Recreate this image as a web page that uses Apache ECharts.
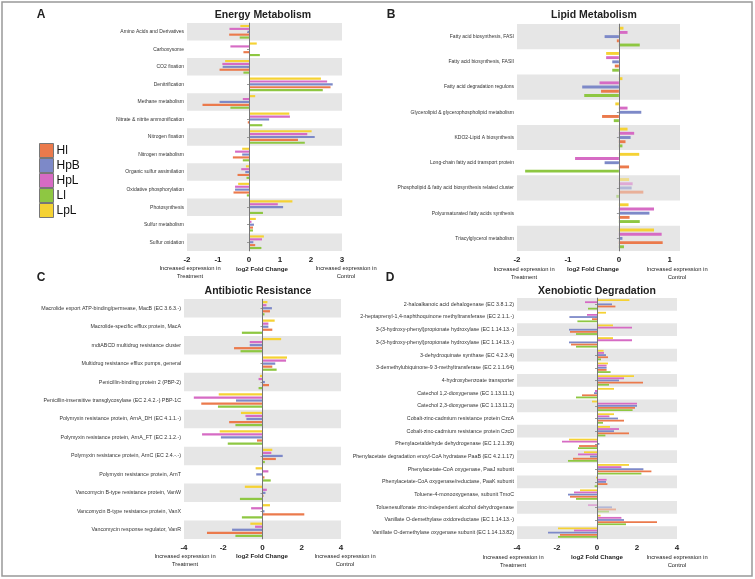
<!DOCTYPE html>
<html>
<head>
<meta charset="utf-8">
<script src="https://cdn.jsdelivr.net/npm/echarts@6/dist/echarts.min.js"></script>
<style>
html, body { margin: 0; padding: 0; background: #fff; }
#main { width: 755px; height: 579px; }
</style>
</head>
<body>
<div id="main"></div>
<script>
// groups, top-to-bottom order inside each category
var legendOrder = ['Hl', 'HpB', 'HpL', 'Ll', 'LpL'];
var barOrder = ['LpL', 'HpL', 'HpB', 'Hl', 'Ll'];
var groupColors = { Hl: '#EB7A4C', HpB: '#7D89C8', HpL: '#D66BC4', Ll: '#8EC742', LpL: '#F5D234' };

// A - Energy Metabolism
var energyCats = ['Amino Acids and Derivatives', 'Carboxysome', 'CO2 fixation', 'Denitrification',
    'Methane metabolism', 'Nitrate & nitrite ammonification', 'Nitrogen fixation', 'Nitrogen metabolism',
    'Organic sulfur assimilation', 'Oxidative phosphorylation', 'Photosynthesis', 'Sulfur metabolism', 'Sulfur oxidation'];
var energyLpL = [-0.28, 0.25, -0.77, 2.32, 0.2, 1.3, 2.02, -0.22, -0.1, -0.35, 1.4, 0.22, 0.48];
var energyHpL = [-0.63, -0.6, -0.86, 2.52, -0.2, 1.32, 1.88, -0.45, -0.25, -0.45, 0.93, 0.08, 0.42];
var energyHpB = [-0.05, 0.03, -0.85, 2.7, -0.95, 0.65, 2.12, -0.22, -0.12, -0.45, 1.1, 0.16, 0.14];
var energyHl = [-0.64, -0.18, -0.95, 2.63, -1.5, -0.04, 1.58, -0.52, -0.37, -0.5, 0.02, 0.13, 0.2];
var energyLl = [-0.3, 0.35, -0.18, 2.38, -0.6, 0.43, 1.8, -0.2, -0.08, -0.07, 0.45, 0.13, 0.4];

// B - Lipid Metabolism
var lipidCats = ['Fatty acid biosynthesis, FASI', 'Fatty acid biosynthesis, FASII', 'Fatty acid degradation regulons',
    'Glycerolipid & glycerophospholipid metabolism', 'KDO2-Lipid A biosynthesis', 'Long-chain fatty acid transport protein',
    'Phospholipid & fatty acid biosynthesis related cluster', 'Polyunsaturated fatty acids synthesis', 'Triacylglycerol metabolism'];
var lipidLpL = [0.09, -0.25, 0.07, -0.07, 0.17, 0.4, 0.2, 0.19, 0.69];
var lipidHpL = [0.17, -0.25, -0.38, 0.17, 0.3, -0.86, 0.27, 0.69, 0.84];
var lipidHpB = [-0.28, -0.13, -0.72, 0.44, 0.23, -0.28, 0.25, 0.6, 0.07];
var lipidHl = [-0.04, -0.08, -0.35, -0.33, 0.13, 0.2, 0.48, 0.21, 0.86];
var lipidLl = [0.41, -0.13, -0.68, -0.1, 0.07, -1.84, -0.05, 0.41, 0.1];
var lipidFaded = [6];

// C - Antibiotic Resistance
var abCats = ['Macrolide export ATP-binding/permease, MacB (EC 3.6.3.-)', 'Macrolide-specific efflux protein, MacA',
    'mdtABCD multidrug resistance cluster', 'Multidrug resistance efflux pumps, general', 'Penicillin-binding protein 2 (PBP-2)',
    'Penicillin-insensitive transglycosylase (EC 2.4.2.-) PBP-1C', 'Polymyxin resistance protein, ArnA_DH (EC 4.1.1.-)',
    'Polymyxin resistance protein, ArnA_FT (EC 2.1.2.-)', 'Polymyxin resistance protein, ArnC (EC 2.4.-.-)',
    'Polymyxin resistance protein, ArnT', 'Vancomycin B-type resistance protein, VanW',
    'Vancomycin B-type resistance protein, VanX', 'Vancomycin response regulator, VanR'];
var abLpL = [0.25, 0.62, 0.95, 1.25, -0.13, -2.23, -1.1, -2.18, 0.5, -0.35, -0.9, 0.38, -0.62];
var abHpL = [0.2, 0.3, -0.65, 1.2, -0.2, -3.5, -0.87, -3.08, 0.45, 0.3, 0.22, -0.58, -0.38];
var abHpB = [0.48, 0.3, -0.65, 0.65, 0.12, -1.35, -0.82, -2.12, 1.03, -0.32, 0.15, 0.1, -1.55];
var abHl = [0.38, 0.5, -1.45, 0.5, 0.33, -3.12, -1.7, -0.28, 0.68, 0.1, 0.05, 2.13, -2.83];
var abLl = [0.1, -1.05, -1.12, 0.72, -0.2, -2.27, -1.38, -1.77, 0.12, 0.42, -1.15, -1.05, -1.38];

// D - Xenobiotic Degradation
var xenoCats = ['2-haloalkanoic acid dehalogenase (EC 3.8.1.2)', '2-heptaprenyl-1,4-naphthoquinone methyltransferase (EC 2.1.1.-)',
    '3-(3-hydroxy-phenyl)propionate hydroxylase (EC 1.14.13.-)', '3-(3-hydroxy-phenyl)propionate hydroxylase (EC 1.14.13.-)',
    '3-dehydroquinate synthase (EC 4.2.3.4)', '3-demethylubiquinone-9 3-methyltransferase (EC 2.1.1.64)',
    '4-hydroxybenzoate transporter', 'Catechol 1,2-dioxygenase (EC 1.13.11.1)', 'Catechol 2,3-dioxygenase (EC 1.13.11.2)',
    'Cobalt-zinc-cadmium resistance protein CzcA', 'Cobalt-zinc-cadmium resistance protein CzcD',
    'Phenylacetaldehyde dehydrogenase (EC 1.2.1.39)', 'Phenylacetate degradation enoyl-CoA hydratase PaaB (EC 4.2.1.17)',
    'Phenylacetate-CoA oxygenase, PaaJ subunit', 'Phenylacetate-CoA oxygenase/reductase, PaaK subunit',
    'Toluene-4-monooxygenase, subunit TmoC', 'Toluenesulfonate zinc-independent alcohol dehydrogenase',
    'Vanillate O-demethylase oxidoreductase (EC 1.14.13.-)', 'Vanillate O-demethylase oxygenase subunit (EC 1.14.13.82)'];
var xenoLpL = [1.62, 0.45, 0.8, 0.8, 0.33, 0.55, 1.85, 0.85, -0.25, 0.85, 0.65, -1.4, -0.65, 1.6, -0.05, -0.85, 0.02, 0.18, -1.95];
var xenoHpL = [-0.6, -0.5, 1.75, 1.75, 0.35, 0.48, 1.35, -0.1, 2.0, 0.62, 1.1, -1.75, -0.95, 1.22, 0.48, -1.15, -0.45, 1.22, -1.15];
var xenoHpB = [0.75, -1.38, -1.4, -1.4, 0.45, 0.48, 1.1, -0.15, 2.0, 1.05, 0.85, 0.12, -0.35, 2.32, 0.45, -1.45, 0.75, 1.35, -2.45];
var xenoHl = [0.92, -0.25, -1.35, -1.3, 0.55, 0.48, 2.3, -0.75, 1.9, 1.35, 1.6, -0.9, -1.2, 2.72, 0.52, -1.35, 0.95, 3.0, -1.85];
var xenoLl = [-0.45, -0.98, -1.05, -1.05, 0.2, 0.68, 0.6, -1.05, 1.78, 0.3, 0.42, -0.95, -1.45, 2.22, -0.12, -1.05, 0.6, 1.45, -1.95];
var xenoFaded = [16];

var FONT = '"Liberation Sans", Arial, sans-serif';

var panels = [
    { cats: energyCats, data: { LpL: energyLpL, HpL: energyHpL, HpB: energyHpB, Hl: energyHl, Ll: energyLl }, faded: [],
      grid: { left: 187, top: 23, width: 155, height: 228 }, min: -2, max: 3, interval: 1, labelSize: 5, gap: ['22%', '35%'] },
    { cats: lipidCats, data: { LpL: lipidLpL, HpL: lipidHpL, HpB: lipidHpB, Hl: lipidHl, Ll: lipidLl }, faded: lipidFaded,
      grid: { left: 517, top: 24, width: 163, height: 227 }, min: -2, max: 1.2, interval: 1, labelSize: 5, gap: ['22%', '45%'] },
    { cats: abCats, data: { LpL: abLpL, HpL: abHpL, HpB: abHpB, Hl: abHl, Ll: abLl }, faded: [],
      grid: { left: 184, top: 299, width: 157, height: 240 }, min: -4, max: 4, interval: 2, labelSize: 5.3, gap: ['22%', '35%'] },
    { cats: xenoCats, data: { LpL: xenoLpL, HpL: xenoHpL, HpB: xenoHpB, Hl: xenoHl, Ll: xenoLl }, faded: xenoFaded,
      grid: { left: 517, top: 298, width: 160, height: 241 }, min: -4, max: 4, interval: 2, labelSize: 5.3, gap: ['18%', '20%'] }
];

var grids = [], xAxes = [], yAxes = [], series = [];
panels.forEach(function(p, i) {
    grids.push(p.grid);
    xAxes.push({
        type: 'value', gridIndex: i, min: p.min, max: p.max, interval: p.interval,
        axisLine: { show: false }, axisTick: { show: false }, splitLine: { show: false },
        axisLabel: { fontFamily: FONT, fontSize: 8, fontWeight: 'bold', color: '#222', margin: 5, showMaxLabel: p.max % p.interval === 0 }
    });
    yAxes.push({
        type: 'category', gridIndex: i, data: p.cats, inverse: true,
        axisLine: { show: true, lineStyle: { color: '#999', width: 0.8 } },
        axisTick: { show: true, alignWithLabel: true, length: 2, lineStyle: { color: '#999' } },
        axisLabel: { fontFamily: FONT, fontSize: p.labelSize, color: '#333', margin: 3, interval: 0 },
        splitArea: { show: true, areaStyle: { color: ['#e6e6e6', 'rgba(255,255,255,0)'] } }
    });
    barOrder.forEach(function(g, k) {
        var s = {
            type: 'bar', name: g, xAxisIndex: i, yAxisIndex: i,
            barCategoryGap: p.gap[0], barGap: p.gap[1],
            itemStyle: { color: groupColors[g] },
            silent: true,
            data: p.data[g].map(function(v, idx) {
                return p.faded.indexOf(idx) >= 0 ? { value: v, itemStyle: { opacity: 0.5 } } : v;
            })
        };
        if (k === 0) {
            s.markLine = {
                silent: true, symbol: ['none', 'none'], label: { show: false },
                lineStyle: { color: '#777', width: 1, type: 'solid' },
                data: [{ xAxis: 0 }]
            };
        }
        series.push(s);
    });
});

function txt(x, y, text, size, bold, align) {
    return {
        type: 'text', x: x, y: y, silent: true,
        style: { text: text, fontFamily: FONT, fontSize: size, fontWeight: bold ? 'bold' : 'normal',
                 fill: '#222', align: align || 'center', verticalAlign: 'middle', lineHeight: size + 2 }
    };
}

var graphics = [
    { type: 'rect', shape: { x: 2, y: 2, width: 750, height: 574 }, style: { fill: 'none', stroke: '#999', lineWidth: 1.5 }, silent: true },
    txt(41, 15, 'A', 12, true), txt(391, 15, 'B', 12, true), txt(41, 278, 'C', 12, true), txt(390, 278, 'D', 12, true),
    txt(263, 15, 'Energy Metabolism', 10.5, true), txt(594, 15, 'Lipid Metabolism', 10.5, true),
    txt(258, 291, 'Antibiotic Resistance', 10.5, true), txt(597, 291, 'Xenobiotic Degradation', 10.5, true),
    txt(190, 272, 'Increased expression in\nTreatment', 5.8), txt(262, 269, 'log2 Fold Change', 6.2, true), txt(346, 272, 'Increased expression in\nControl', 5.8),
    txt(524, 273, 'Increased expression in\nTreatment', 5.8), txt(593, 269, 'log2 Fold Change', 6.2, true), txt(677, 273, 'Increased expression in\nControl', 5.8),
    txt(185, 560, 'Increased expression in\nTreatment', 5.8), txt(262, 556, 'log2 Fold Change', 6.2, true), txt(345, 560, 'Increased expression in\nControl', 5.8),
    txt(513, 561, 'Increased expression in\nTreatment', 5.8), txt(597, 557, 'log2 Fold Change', 6.2, true), txt(677, 561, 'Increased expression in\nControl', 5.8)
];

var chart = echarts.init(document.getElementById('main'), null, { renderer: 'canvas' });
chart.setOption({
    animation: false,
    backgroundColor: '#fff',
    legend: {
        data: legendOrder, orient: 'vertical', left: 39, top: 143, padding: 0,
        itemWidth: 14, itemHeight: 14, itemGap: 0, icon: 'rect',
        itemStyle: { borderColor: '#777', borderWidth: 1 },
        textStyle: { fontFamily: FONT, fontSize: 12, color: '#111', padding: [0, 0, 0, -2] },
        selectedMode: false
    },
    grid: grids,
    xAxis: xAxes,
    yAxis: yAxes,
    series: series,
    graphic: graphics
});
</script>
</body>
</html>
